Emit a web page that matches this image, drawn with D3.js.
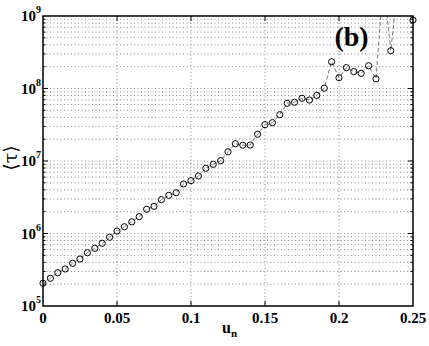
<!DOCTYPE html>
<html>
<head>
<meta charset="utf-8">
<script src="https://cdn.jsdelivr.net/npm/d3@7"></script>
<style>
  html, body { margin: 0; padding: 0; background: #fff; }
</style>
</head>
<body>
<div id="chart"></div>
<script>
// data
var uValues = [0, 0.005, 0.01, 0.015, 0.02, 0.025, 0.03, 0.035, 0.04, 0.045,
  0.05, 0.055, 0.06, 0.065, 0.07, 0.075, 0.08, 0.085, 0.09, 0.095,
  0.1, 0.105, 0.11, 0.115, 0.12, 0.125, 0.13, 0.135, 0.14, 0.145,
  0.15, 0.155, 0.16, 0.165, 0.17, 0.175, 0.18, 0.185, 0.19, 0.195,
  0.2, 0.205, 0.21, 0.215, 0.22, 0.225, 0.23, 0.235, 0.24, 0.245, 0.25];
var tauValues = [2.06e5, 2.41e5, 2.88e5, 3.24e5, 3.88e5, 4.45e5, 5.43e5, 6.25e5, 7.33e5, 8.87e5,
  1.08e6, 1.24e6, 1.45e6, 1.71e6, 2.16e6, 2.37e6, 2.93e6, 3.36e6, 3.65e6, 4.82e6,
  5.35e6, 6.21e6, 7.93e6, 9.0e6, 1.01e7, 1.34e7, 1.73e7, 1.65e7, 1.66e7, 2.34e7,
  3.17e7, 3.38e7, 4.35e7, 6.25e7, 6.46e7, 7.33e7, 6.93e7, 8.05e7, 1.01e8, 2.34e8,
  1.41e8, 1.94e8, 1.71e8, 1.62e8, 2.06e8, 1.36e8, 3.0e9, 3.32e8, 3.0e9, 5.0e9, 8.8e8];
var xTicks = [0, 0.05, 0.1, 0.15, 0.2, 0.25];
var xTickLabels = ["0", "0.05", "0.1", "0.15", "0.2", "0.25"];
var yExponents = [5, 6, 7, 8, 9];
var panelLabel = "(b)";
var xLabel = "u";
var xLabelSub = "n";
var yLabel = "\u27E8\u03C4\u27E9";

var serif = "Liberation Serif";

var width = 429, height = 346;
var margin = {left: 43, right: 16, top: 16, bottom: 40};
var plotW = width - margin.left - margin.right;
var plotH = height - margin.top - margin.bottom;

var svg = d3.select("#chart").append("svg")
  .attr("width", width)
  .attr("height", height);

var g = svg.append("g")
  .attr("transform", "translate(" + margin.left + "," + margin.top + ")");

var x = d3.scaleLinear().domain([0, 0.25]).range([0, plotW]);
var y = d3.scaleLog().domain([1e5, 1e9]).range([plotH, 0]);

// all log ticks (majors + minors) inside the box
var logTicks = y.ticks().filter(function(d) { return d > 1e5 && d < 1e9; });
function isMajor(d) { return Math.abs(Math.log10(d) - Math.round(Math.log10(d))) < 1e-6; }

// grid
g.selectAll("line.hgrid")
  .data(logTicks)
  .enter().append("line")
  .attr("class", "hgrid")
  .attr("x1", 0).attr("x2", plotW)
  .attr("y1", function(d) { return y(d); })
  .attr("y2", function(d) { return y(d); })
  .style("stroke", "#8a8a8a")
  .style("stroke-width", 1)
  .style("stroke-dasharray", "1,2.5");

g.selectAll("line.vgrid")
  .data(xTicks.slice(1, -1))
  .enter().append("line")
  .attr("class", "vgrid")
  .attr("y1", 0).attr("y2", plotH)
  .attr("x1", function(d) { return x(d); })
  .attr("x2", function(d) { return x(d); })
  .style("stroke", "#8a8a8a")
  .style("stroke-width", 1)
  .style("stroke-dasharray", "1,2.5");

// data
var pts = uValues.map(function(u, i) { return {u: u, t: tauValues[i]}; });

g.append("clipPath").attr("id", "plotclip")
  .append("rect").attr("width", plotW).attr("height", plotH);

var line = d3.line()
  .x(function(d) { return x(d.u); })
  .y(function(d) { return y(d.t); });

g.append("path")
  .datum(pts)
  .attr("clip-path", "url(#plotclip)")
  .attr("d", line)
  .style("fill", "none")
  .style("stroke", "#555")
  .style("stroke-width", 0.8)
  .style("stroke-dasharray", "4,2.5");

g.selectAll("circle.pt")
  .data(pts.filter(function(d) { return d.t <= 1e9; }))
  .enter().append("circle")
  .attr("class", "pt")
  .attr("cx", function(d) { return x(d.u); })
  .attr("cy", function(d) { return y(d.t); })
  .attr("r", 3.1)
  .style("fill", "none")
  .style("stroke", "#000")
  .style("stroke-width", 1);

// ticks inside on all sides
var tickG = g.append("g").style("stroke", "#000").style("stroke-width", 1);
xTicks.slice(1, -1).forEach(function(d) {
  tickG.append("line").attr("x1", x(d)).attr("x2", x(d)).attr("y1", plotH).attr("y2", plotH - 5);
  tickG.append("line").attr("x1", x(d)).attr("x2", x(d)).attr("y1", 0).attr("y2", 5);
});
logTicks.forEach(function(d) {
  var len = isMajor(d) ? 5 : 2.5;
  tickG.append("line").attr("x1", 0).attr("x2", len).attr("y1", y(d)).attr("y2", y(d));
  tickG.append("line").attr("x1", plotW).attr("x2", plotW - len).attr("y1", y(d)).attr("y2", y(d));
});

// box
g.append("rect")
  .attr("width", plotW).attr("height", plotH)
  .style("fill", "none")
  .style("stroke", "#000")
  .style("stroke-width", 1.5);

// x tick labels
g.selectAll("text.xt")
  .data(xTicks)
  .enter().append("text")
  .attr("class", "xt")
  .attr("x", function(d) { return x(d); })
  .attr("y", plotH + 17)
  .attr("text-anchor", "middle")
  .attr("font-family", serif)
  .attr("font-weight", "bold")
  .attr("font-size", 15)
  .text(function(d, i) { return xTickLabels[i]; });

// y tick labels 10^n
var yt = g.selectAll("text.yt")
  .data(yExponents)
  .enter().append("text")
  .attr("class", "yt")
  .attr("x", -2)
  .attr("y", function(d) { return y(Math.pow(10, d)) + 5; })
  .attr("text-anchor", "end")
  .attr("font-family", serif)
  .attr("font-weight", "bold")
  .attr("font-size", 15);
yt.append("tspan").text("10");
yt.append("tspan")
  .attr("dy", -8)
  .attr("font-size", 10)
  .text(function(d) { return d; });

// axis labels
var xl = svg.append("text")
  .attr("x", 222)
  .attr("y", 333)
  .attr("font-family", serif)
  .attr("font-weight", "bold")
  .attr("font-size", 16);
xl.append("tspan").text(xLabel);
xl.append("tspan").attr("dy", 4).attr("font-size", 11).text(xLabelSub);

svg.append("text")
  .attr("transform", "translate(17,158) rotate(-90)")
  .attr("text-anchor", "middle")
  .attr("font-family", "DejaVu Serif")
  .attr("font-size", 19)
  .text(yLabel);

// panel label
g.append("text")
  .attr("x", x(0.2085))
  .attr("y", 30)
  .attr("text-anchor", "middle")
  .attr("font-family", serif)
  .attr("font-weight", "bold")
  .attr("font-size", 28)
  .text(panelLabel);
</script>
</body>
</html>
